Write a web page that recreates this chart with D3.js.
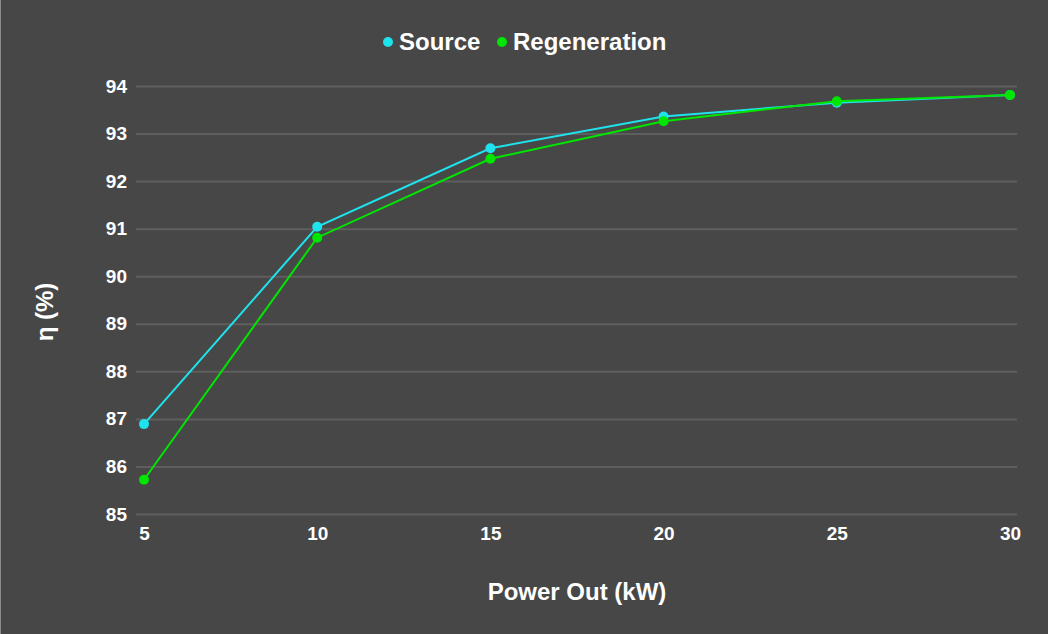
<!DOCTYPE html>
<html><head><meta charset="utf-8">
<script src="https://cdn.jsdelivr.net/npm/d3@7"></script>
<style>html,body{margin:0;padding:0;background:#474747;}svg{display:block;}</style>
</head><body>
<svg id="c" width="1048" height="634"></svg>
<script>
const powerOut = [5, 10, 15, 20, 25, 30];
const sourceEff = [86.89, 91.04, 92.69, 93.36, 93.65, 93.81];
const regenEff = [85.72, 90.81, 92.47, 93.26, 93.68, 93.81];
const yTicks = [85, 86, 87, 88, 89, 90, 91, 92, 93, 94];
const seriesNames = ["Source", "Regeneration"];
const seriesColors = ["#1ee3ec", "#00e600"];

const svg = d3.select("#c");
const W = 1048, H = 634;
svg.append("rect").attr("width", W).attr("height", H).attr("fill", "#474747");
svg.append("line").attr("x1", 0.5).attr("x2", 0.5).attr("y1", 0).attr("y2", H).attr("stroke", "#8a8a8a").attr("stroke-width", 1);

const font = "'Liberation Sans', Arial, sans-serif";
const x = d3.scaleLinear().domain([5, 30]).range([144, 1010]);
const y = d3.scaleLinear().domain([85, 94]).range([514, 86]);

const yAxis = d3.axisLeft(y).tickValues(yTicks).tickSize(-(1017 - 136)).tickFormat(d3.format("d")).tickPadding(9);
const gy = svg.append("g").attr("transform", "translate(136,0)").call(yAxis);
gy.select(".domain").remove();
gy.selectAll(".tick line").attr("stroke", "#5e5e5e").attr("stroke-width", 2);
gy.selectAll(".tick text").attr("fill", "#ffffff").style("font-family", font).style("font-size", "19px").style("font-weight", "bold");

const xAxis = d3.axisBottom(x).tickValues(powerOut).tickSize(0).tickFormat(d3.format("d")).tickPadding(13);
const gx = svg.append("g").attr("transform", "translate(0,514)").call(xAxis);
gx.select(".domain").remove();
gx.selectAll(".tick text").attr("fill", "#ffffff").style("font-family", font).style("font-size", "19px").style("font-weight", "bold");

svg.append("text").attr("x", 577).attr("y", 600).attr("text-anchor", "middle")
  .attr("fill", "#fff").style("font-family", font).style("font-size", "24px").style("font-weight", "bold")
  .text("Power Out (kW)");
svg.append("text").attr("transform", "translate(53,312) rotate(-90)").attr("text-anchor", "middle")
  .attr("fill", "#fff").style("font-family", font).style("font-size", "24px").style("font-weight", "bold")
  .text("η (%)");

const series = [sourceEff, regenEff];
const line = d3.line().x((d, i) => x(powerOut[i])).y(d => y(d));
series.forEach((s, k) => {
  svg.append("path").datum(s).attr("d", line).attr("fill", "none")
    .attr("stroke", seriesColors[k]).attr("stroke-width", 2);
});
series.forEach((s, k) => {
  svg.append("g").selectAll("circle").data(s).join("circle")
    .attr("cx", (d, i) => x(powerOut[i])).attr("cy", d => y(d)).attr("r", 5)
    .attr("fill", seriesColors[k]);
});

const legendX = [388, 502];
seriesNames.forEach((n, k) => {
  svg.append("circle").attr("cx", legendX[k]).attr("cy", 42).attr("r", 5).attr("fill", seriesColors[k]);
  svg.append("text").attr("x", legendX[k] + 11).attr("y", 50)
    .attr("fill", "#fff").style("font-family", font).style("font-size", "24px").style("font-weight", "bold")
    .text(n);
});
</script>
</body></html>
